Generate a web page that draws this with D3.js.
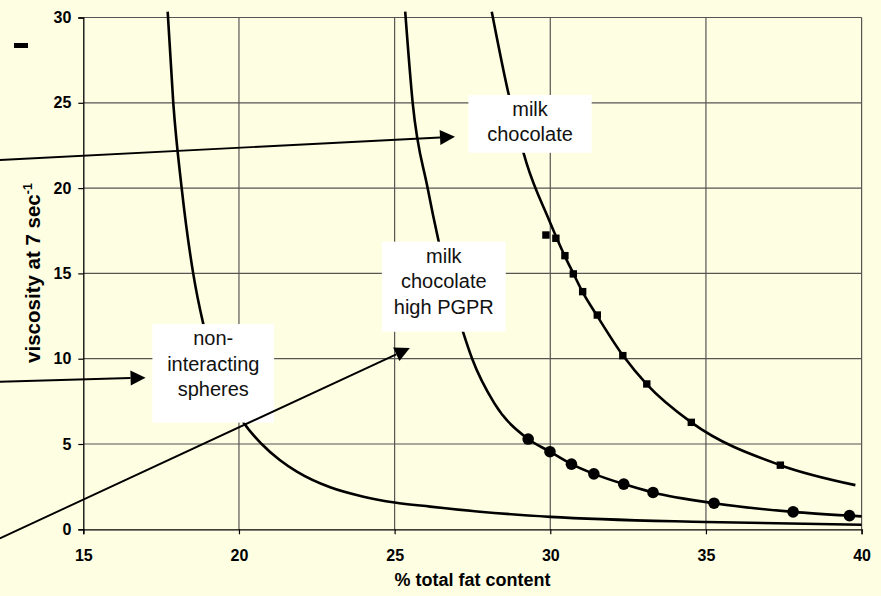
<!DOCTYPE html>
<html>
<head>
<meta charset="utf-8">
<script src="https://cdn.jsdelivr.net/npm/d3@7"></script>
<style>
  html, body { margin: 0; padding: 0; background: #FEFEE2; }
  svg { display: block; font-family: "Liberation Sans", Arial, sans-serif; }
</style>
</head>
<body>
<svg id="chart" width="881" height="596"></svg>
<script>
// axis ticks
var xTicks = [15, 20, 25, 30, 35, 40];
var yTicks = [0, 5, 10, 15, 20, 25, 30];

// fitted curves (x = % fat, y = viscosity)
var sphereCurve = [
  [17.71, 30.34], [17.89, 25], [18.16, 20], [18.53, 15], [18.85, 12.07],
  [19.4, 8.9], [20.17, 6.2], [20.73, 5.0], [21.31, 4.06], [21.86, 3.38],
  [22.93, 2.46], [24.0, 1.91], [25, 1.57], [26.14, 1.33], [27.74, 1.03],
  [30, 0.73], [35, 0.43], [40, 0.27]
];
var pgprCurve = [
  [25.34, 30.34], [25.58, 25], [26.06, 20], [26.40, 17], [27.21, 11.5],
  [27.49, 10.0], [28.2, 7.4], [29.29, 5.29], [29.99, 4.55], [30.68, 3.82],
  [31.40, 3.25], [32.36, 2.65], [33.30, 2.16], [35.26, 1.53], [37.80, 1.02],
  [39.61, 0.80], [40, 0.76]
];
var milkCurve = [
  [28.12, 30.34], [28.65, 25.6], [29.24, 21.45], [29.96, 18.13], [30.47, 16.0],
  [30.74, 15.0], [31.04, 13.9], [31.51, 12.5], [32.33, 10.2], [33.1, 8.5],
  [34.53, 6.27], [37.39, 3.76], [39.8, 2.59]
];

// measured points
var pgprX = [29.29, 29.99, 30.68, 31.40, 32.36, 33.30, 35.26, 37.80, 39.61];
var pgprY = [5.29, 4.55, 3.82, 3.25, 2.65, 2.16, 1.53, 1.02, 0.80];
var milkX = [29.86, 30.18, 30.47, 30.74, 31.04, 31.51, 32.33, 33.10, 34.53, 37.39];
var milkY = [17.25, 17.06, 16.04, 14.97, 13.93, 12.56, 10.18, 8.52, 6.27, 3.76];

// labels (boxes in data units: x0, x1, yTop, yBottom)
var labelText = [["milk", "chocolate"], ["milk", "chocolate", "high PGPR"], ["non-", "interacting", "spheres"]];
var labelBox = [[27.37, 31.33, 25.46, 22.07], [24.59, 28.57, 16.86, 11.58], [17.22, 21.13, 12.03, 6.25]];
// arrows: from [x, y] to [x, y]
var arrows = [[[12.32, 21.65], [26.94, 23.01]], [[12.32, 8.65], [17.0, 8.89]], [[12.32, -0.53], [25.49, 10.63]]];

function drawChart() {
  var svg = d3.select("#chart");
  var mLeft = 83.3, mRight = 861.6, mTop = 17.5, mBottom = 529.3;

  var x = d3.scaleLinear().domain([15, 40]).range([mLeft, mRight]);
  var y = d3.scaleLinear().domain([0, 30]).range([mBottom, mTop]);

  svg.append("rect").attr("width", 881).attr("height", 596).attr("fill", "#FEFEE2");

  // gridlines
  var grid = svg.append("g").attr("stroke", "#555").attr("stroke-width", 1.2);
  grid.selectAll(".gx").data(xTicks.slice(1)).enter().append("line")
    .attr("x1", function (d) { return x(d); }).attr("x2", function (d) { return x(d); })
    .attr("y1", mTop).attr("y2", mBottom);
  grid.selectAll(".gy").data(yTicks.slice(1)).enter().append("line")
    .attr("x1", mLeft).attr("x2", mRight)
    .attr("y1", function (d) { return y(d); }).attr("y2", function (d) { return y(d); });

  // axes
  var xAxis = svg.append("g").attr("transform", "translate(0," + mBottom + ")")
    .call(d3.axisBottom(x).tickValues(xTicks).tickSize(5).tickPadding(15));
  var yAxis = svg.append("g").attr("transform", "translate(" + mLeft + ",0)")
    .call(d3.axisLeft(y).tickValues(yTicks).tickSize(5).tickPadding(7));
  [xAxis, yAxis].forEach(function (a) {
    a.select(".domain").attr("stroke", "#000").attr("stroke-width", 1.3);
    a.selectAll(".tick line").attr("stroke", "#000").attr("stroke-width", 1.2);
    a.selectAll(".tick text").attr("font-size", 16).attr("font-weight", "bold")
      .attr("fill", "#000").attr("font-family", "Liberation Sans, Arial, sans-serif");
  });

  // axis titles
  svg.append("text").attr("x", x(27.5)).attr("y", 586).attr("text-anchor", "middle")
    .attr("font-size", 18).attr("font-weight", "bold").attr("fill", "#000")
    .text("% total fat content");
  var yt = svg.append("text").attr("transform", "translate(40,273) rotate(-90)")
    .attr("text-anchor", "middle").attr("font-size", 20.5).attr("font-weight", "bold").attr("fill", "#000");
  yt.append("tspan").text("viscosity at 7 sec");
  yt.append("tspan").attr("font-size", 12.5).attr("dy", -8).text("-1");

  // curves
  var line = d3.line().x(function (d) { return x(d[0]); }).y(function (d) { return y(d[1]); })
    .curve(d3.curveMonotoneX);
  [sphereCurve, pgprCurve, milkCurve].forEach(function (c) {
    svg.append("path").datum(c).attr("d", line).attr("fill", "none")
      .attr("stroke", "#000").attr("stroke-width", 2.6);
  });

  // markers
  svg.append("g").selectAll("circle").data(pgprX).enter().append("circle")
    .attr("cx", function (d) { return x(d); })
    .attr("cy", function (d, i) { return y(pgprY[i]); })
    .attr("r", 5.8).attr("fill", "#000");
  svg.append("g").selectAll("rect").data(milkX).enter().append("rect")
    .attr("x", function (d) { return x(d) - 3.7; })
    .attr("y", function (d, i) { return y(milkY[i]) - 3.7; })
    .attr("width", 7.4).attr("height", 7.4).attr("fill", "#000");

  // label boxes
  labelBox.forEach(function (b, i) {
    var g = svg.append("g");
    g.append("rect").attr("x", x(b[0])).attr("y", y(b[2]))
      .attr("width", x(b[1]) - x(b[0])).attr("height", y(b[3]) - y(b[2]))
      .attr("fill", "#fff");
    var cx = (x(b[0]) + x(b[1])) / 2;
    labelText[i].forEach(function (t, j) {
      g.append("text").attr("x", cx).attr("y", y(b[2]) + 21 + j * 25.5)
        .attr("text-anchor", "middle").attr("font-size", 20).attr("fill", "#111").text(t);
    });
  });

  // arrows
  arrows.forEach(function (a) {
    var x1 = x(a[0][0]), y1 = y(a[0][1]), x2 = x(a[1][0]), y2 = y(a[1][1]);
    var ang = Math.atan2(y2 - y1, x2 - x1);
    var len = 15, hw = 7.5;
    var bx = x2 - len * Math.cos(ang), by = y2 - len * Math.sin(ang);
    svg.append("line").attr("x1", x1).attr("y1", y1).attr("x2", bx).attr("y2", by)
      .attr("stroke", "#000").attr("stroke-width", 1.9);
    svg.append("path").attr("fill", "#000")
      .attr("d", "M" + x2 + "," + y2 +
        "L" + (bx + hw * Math.sin(ang)) + "," + (by - hw * Math.cos(ang)) +
        "L" + (bx - hw * Math.sin(ang)) + "," + (by + hw * Math.cos(ang)) + "Z");
  });

  // small black dash at top left
  svg.append("rect").attr("x", 14).attr("y", 43).attr("width", 14).attr("height", 5).attr("fill", "#000");
}

drawChart();
</script>
</body>
</html>
